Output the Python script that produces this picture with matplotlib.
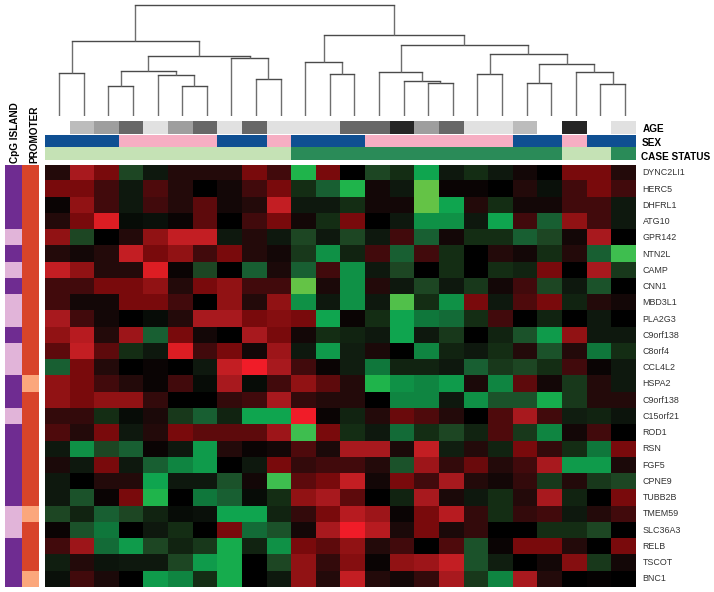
import matplotlib
matplotlib.use('Agg')
from matplotlib import pyplot as plt
from matplotlib.colors import LinearSegmentedColormap, ListedColormap
import numpy as np

plt.rcParams['font.family'] = ['Liberation Sans', 'DejaVu Sans']

W = 714
H = 592

genes = ['DYNC2LI1', 'HERC5', 'DHFRL1', 'ATG10', 'GPR142', 'NTN2L', 'CAMP', 'CNN1',
         'MBD3L1', 'PLA2G3', 'C9orf138', 'C8orf4', 'CCL4L2', 'HSPA2', 'C9orf138',
         'C15orf21', 'ROD1', 'RSN', 'FGF5', 'CPNE9', 'TUBB2B', 'TMEM59', 'SLC36A3',
         'RELB', 'TSCOT', 'BNC1']

# red is positive, green is negative
expr = [
    [2, 7, 5, -3, -1, 2, 2, 2, 5, 3, -8, 5, 0, -3, -2, -7, -1, -2, -1, 1, 0, 5, 5, 2],
    [5, 5, 3, -1, 3.5, 2, 0, 1, 3, 5, -2, -4, -8, 1, -1, -10, 0.5, 0.5, 0, 2, -0.7, 3, 5, 3],
    [0.5, 6, 3, -1, 3, 2, 4, 1, 2, 8, -1, -1, -2, 1, 1, -10, -7, 2, -2, 1, 1, 3, 3, -1],
    [2, 5, 9, -0.5, -0.7, 0.5, 4, 0, 3, 5, 1, -2, 5, 0, -1, -6, -6, -1, -7, 3, -4, 6, 3, -1],
    [6, -3, 0, 2, 6, 8, 8, -1, 2, -1, -3, -1, -3, -1, 3, -4, 1, -2, -2, -4, -3, 1, 7, 0],
    [2, 1, 2, 8, 5, 6, 3, 5, 2, 1, -2.5, -6, -1.5, 3, -4, 3, -2, 0, 2, 1, -2, 2, -4, -9],
    [8, 6, 2, 2, 9, 0.5, -3, 0, -4, 1.5, -4, 3, -6, -1, -3, 0, -2, 0, -2, -1.5, 5, 0, 7, -2.5],
    [3, 3, 5, 5, 6, 2, 5, 6, 3, 3, -10, 1.5, -6, 2, -1, -3, -1, -2.5, 1, 3, -3, -1, -3.5, 0],
    [3, 1, 1, 5, 5, 3, 0, 6, 2, 6, -6, -1, -6, -1, -9.5, -2, -6, 5, -1, 3.5, 5, -1.5, 2, 1],
    [7, 3, 1, 0, -0.5, 2, 7, 7, 5, 5.5, 5, -7, 0.5, -2, -7, -5, -4.5, -2, 3, 0, -1.5, 0, -1, 0],
    [6, 7.5, 2, 6.5, -4, 5, 1, 0, 7, 5, 1, -2, -1.5, -1, -7, -1, -2.5, 0, -1.5, -3.5, -6.5, 6, -1, -1],
    [4, 8, 4, -2, -1, 9, 3, 5, 1, 6.5, -1, -6.5, -1.2, 1.5, 0, -5.5, -1.5, -1, -2, 2, -3.5, 2, -5, -2],
    [-4, 5, 2, 0, 0.5, 0, -1, 8, 10, 7, 3, 0.5, -1.2, -5, -1.5, -1.5, -1, -4, -2.5, -3, -2, 3, 0.5, -1],
    [6, 5, 3, 2, 0.5, 3, -0.5, 7, -0.5, 3, 6, 4, 2, -8, -6, -5.5, -6.5, 1.5, -5.5, 4, 1, -2.5, 2, -1],
    [6, 5, 6, 6, 2.5, 0, 0, 2.5, 3, 7, 2.5, 2, 2, 0, -5.5, -5.5, -1, -6, -3.5, -3.5, -7.5, -2.5, 2, 2],
    [2.5, 2.5, -2, -0.5, 1.5, -2.5, -4, -1.5, -7, -7, 10, 0.5, -1.5, 2, 4.5, 3.5, 2, 0, 3.5, 7, 3, -1.2, -1.5, -0.8],
    [3.5, 2, 5, -1, 2, 5, 4, 4, 4, 6.5, -9, 5, -2, -1, -4.5, -2, -3, -1.5, 3.5, -2.5, -5.5, 1, 3, 0],
    [-1, -6, -3, -4, 0.5, -1, -6.5, 2, 0.5, 1, 3.5, 1.5, 7, 7, 1.5, 8, -1.3, 2, -1.5, 5, 2.5, -2, -5, 5],
    [1.5, -1, 5, -1, -4, -5.5, -6.5, 0, -1, 5, 2.5, 3, 3, 2, -3.5, 6.5, 2.5, 4.5, 2, 3, 7, -6.5, -6.5, 1.5],
    [-1, 0, 2, 2, -7, -1, -1, -3.5, 1, -9, 4, 5, 8, 1, 5, 3, 7, 2, 1, 2.5, -2.5, 2, -2.5, -3],
    [-1, -3.5, 0.5, 5, -8, 0, -5, -4, -0.5, -2, 6, 7, 4, 0, -1.5, 7, 1.5, -1, -2, 2, 7, -1.5, 0, 5],
    [-3, -1.5, -4, -3, -1.5, -0.5, -0.7, -7, -7, -1.5, 2.5, 5, 7.5, 6.5, 0.5, 5, 7.5, 2.5, -2, 2.5, 3, -1, 2, 3],
    [0.5, -3.5, -5, 0, -1, -2, 0, 5, -4.5, -3.5, 1, 7, 10, 7.5, 1.5, 5, 1.5, 2.5, 0, 0, -2, -2, -3, 0],
    [3, 6.5, -4.5, -6.5, -3, -1.5, -2.5, -7.5, -1.5, -6, 5, 4, 6, 2, 3, 0, 3.5, -3.5, 0.5, 5, 5, 2, 0, 5],
    [-1.3, 2, -0.8, -1, -1, -3, -6.5, -7.5, 0, -3, 6, 2.5, 5.5, 0.5, 6, 6.5, 8, -3.5, -1.3, 0, 1, 5.5, -2.5, 1],
    [-0.7, 3, 1.5, 0, -6.5, -5.5, -2, -7.5, 0, -1, 6, 2, 8, 2, 1, 2.5, 7, -2.5, -5.5, 7, 2, 0, 0.3, 0],
]

age = [0, 2, 3, 4, 1, 3, 4, 1, 4, 1, 1, 1, 4, 4, 5, 3, 4, 1, 1, 2, 0, 5, 0, 1]
sex = [0, 0, 0, 1, 1, 1, 1, 0, 0, 1, 0, 0, 0, 1, 1, 1, 1, 1, 1, 0, 0, 1, 0, 0]
case = [0, 0, 0, 0, 0, 0, 0, 0, 0, 0, 1, 1, 1, 1, 1, 1, 1, 1, 1, 1, 1, 0, 0, 1]
cpg = [0, 0, 0, 0, 1, 0, 1, 0, 1, 1, 0, 1, 1, 0, 0, 1, 0, 0, 0, 0, 0, 1, 1, 0, 0, 0]
promoter = [0, 0, 0, 0, 0, 0, 0, 0, 0, 0, 0, 0, 0, 1, 0, 0, 0, 0, 0, 0, 0, 1, 0, 0, 0, 1]

# dendrogram: (left, right, height), leaves are 0-23, node n is merges[n-24]
merges = [
    (0, 1, 43.3), (2, 3, 29.7), (5, 6, 30), (4, 26, 41.3), (25, 27, 45.3),
    (8, 9, 37), (7, 29, 58.3), (28, 30, 60.3), (24, 31, 74.7),
    (11, 12, 42.3), (10, 33, 54),
    (15, 16, 32.7), (14, 35, 35), (13, 36, 44.3),
    (17, 18, 41.7), (19, 20, 32.7), (22, 23, 32), (21, 40, 43.7), (39, 41, 52.3),
    (38, 42, 61.7), (37, 43, 70.7), (34, 44, 81.3), (32, 45, 111.3),
]

heat_cmap = LinearSegmentedColormap.from_list('heat', [
    (0.00, (100/255, 195/255, 70/255)),
    (0.05, (60/255, 190/255, 80/255)),
    (0.10, (30/255, 180/255, 75/255)),
    (0.15, (15/255, 165/255, 80/255)),
    (0.20, (15/255, 145/255, 70/255)),
    (0.25, (15/255, 120/255, 60/255)),
    (0.30, (25/255, 95/255, 50/255)),
    (0.35, (30/255, 70/255, 35/255)),
    (0.40, (20/255, 45/255, 20/255)),
    (0.45, (15/255, 25/255, 15/255)),
    (0.50, (0, 0, 0)),
    (0.55, (20/255, 8/255, 8/255)),
    (0.60, (35/255, 10/255, 10/255)),
    (0.65, (65/255, 10/255, 12/255)),
    (0.70, (92/255, 10/255, 12/255)),
    (0.75, (120/255, 10/255, 12/255)),
    (0.80, (145/255, 18/255, 20/255)),
    (0.85, (168/255, 25/255, 30/255)),
    (0.90, (195/255, 30/255, 35/255)),
    (0.95, (220/255, 30/255, 35/255)),
    (1.00, (240/255, 28/255, 40/255)),
])


def px_axes(fig, x0, y0, x1, y1):
    # axes placed by picture pixels, y measured from the top
    ax = fig.add_axes([x0/W, 1 - y1/H, (x1 - x0)/W, (y1 - y0)/H])
    ax.axis('off')
    return ax


def strip(fig, box, values, colors, vertical=False):
    ax = px_axes(fig, *box)
    arr = np.array(values)
    arr = arr.reshape(-1, 1) if vertical else arr.reshape(1, -1)
    ax.imshow(arr, aspect='auto', interpolation='nearest',
              cmap=ListedColormap(colors), vmin=0, vmax=len(colors) - 1)


fig = plt.figure(figsize=(W/100, H/100), dpi=100)

HEAT_L, HEAT_R = 45, 635.4
HEAT_T, HEAT_B = 164.7, 587

ax = px_axes(fig, HEAT_L, HEAT_T, HEAT_R, HEAT_B)
ax.imshow(np.array(expr), aspect='auto', interpolation='nearest',
          cmap=heat_cmap, vmin=-10, vmax=10)

strip(fig, (HEAT_L, 121, HEAT_R, 134.5), age,
      ['#ffffff', '#e1e1e1', '#bcbcbc', '#9e9e9e', '#676767', '#252525'])
strip(fig, (HEAT_L, 134.5, HEAT_R, 147.3), sex, ['#0f4f92', '#f6aec3'])
strip(fig, (HEAT_L, 147.3, HEAT_R, 160), case, ['#c5e2b5', '#2a8b58'])

strip(fig, (4.7, HEAT_T, 21.3, HEAT_B), cpg, ['#6f2c91', '#e1b4d9'], vertical=True)
strip(fig, (22, HEAT_T, 38.7, HEAT_B), promoter, ['#d8442a', '#fba77c'], vertical=True)

# dendrogram leaves sit about 2px right of the column centres
ax = px_axes(fig, HEAT_L + 1.9, 0, HEAT_R + 1.9, 116)
ax.set_xlim(-0.5, 23.5)
ax.set_ylim(0, 116)
node_x = {i: float(i) for i in range(24)}
node_h = {i: 0.0 for i in range(24)}
for n, (a, b, h) in enumerate(merges):
    ax.plot([node_x[a], node_x[a]], [node_h[a], h], color='#6e6e6e', lw=1.0, solid_capstyle='butt')
    ax.plot([node_x[b], node_x[b]], [node_h[b], h], color='#6e6e6e', lw=1.0, solid_capstyle='butt')
    ax.plot([node_x[a], node_x[b]], [h, h], color='#4a4a4a', lw=1.0, solid_capstyle='projecting')
    node_x[24 + n] = (node_x[a] + node_x[b]) / 2
    node_h[24 + n] = h

row_h = (HEAT_B - HEAT_T) / len(genes)
for i, gene in enumerate(genes):
    fig.text(642.7/W, 1 - (HEAT_T + row_h*(i + 0.5))/H, gene, fontsize=6.4,
             color='#333333', ha='left', va='center')

fig.text(643/W, 1 - 129.5/H, 'AGE', fontsize=7.2, fontweight='bold', va='center')
fig.text(642/W, 1 - 143.3/H, 'SEX', fontsize=7.2, fontweight='bold', va='center')
fig.text(641/W, 1 - 156.5/H, 'CASE STATUS', fontsize=7.2, fontweight='bold', va='center')
fig.text(15/W, 1 - 163/H, 'CpG ISLAND', fontsize=7.2, fontweight='bold',
         rotation=90, ha='center', va='bottom')
fig.text(34/W, 1 - 163/H, 'PROMOTER', fontsize=7.2, fontweight='bold',
         rotation=90, ha='center', va='bottom')

plt.savefig('out.png', dpi=100)
